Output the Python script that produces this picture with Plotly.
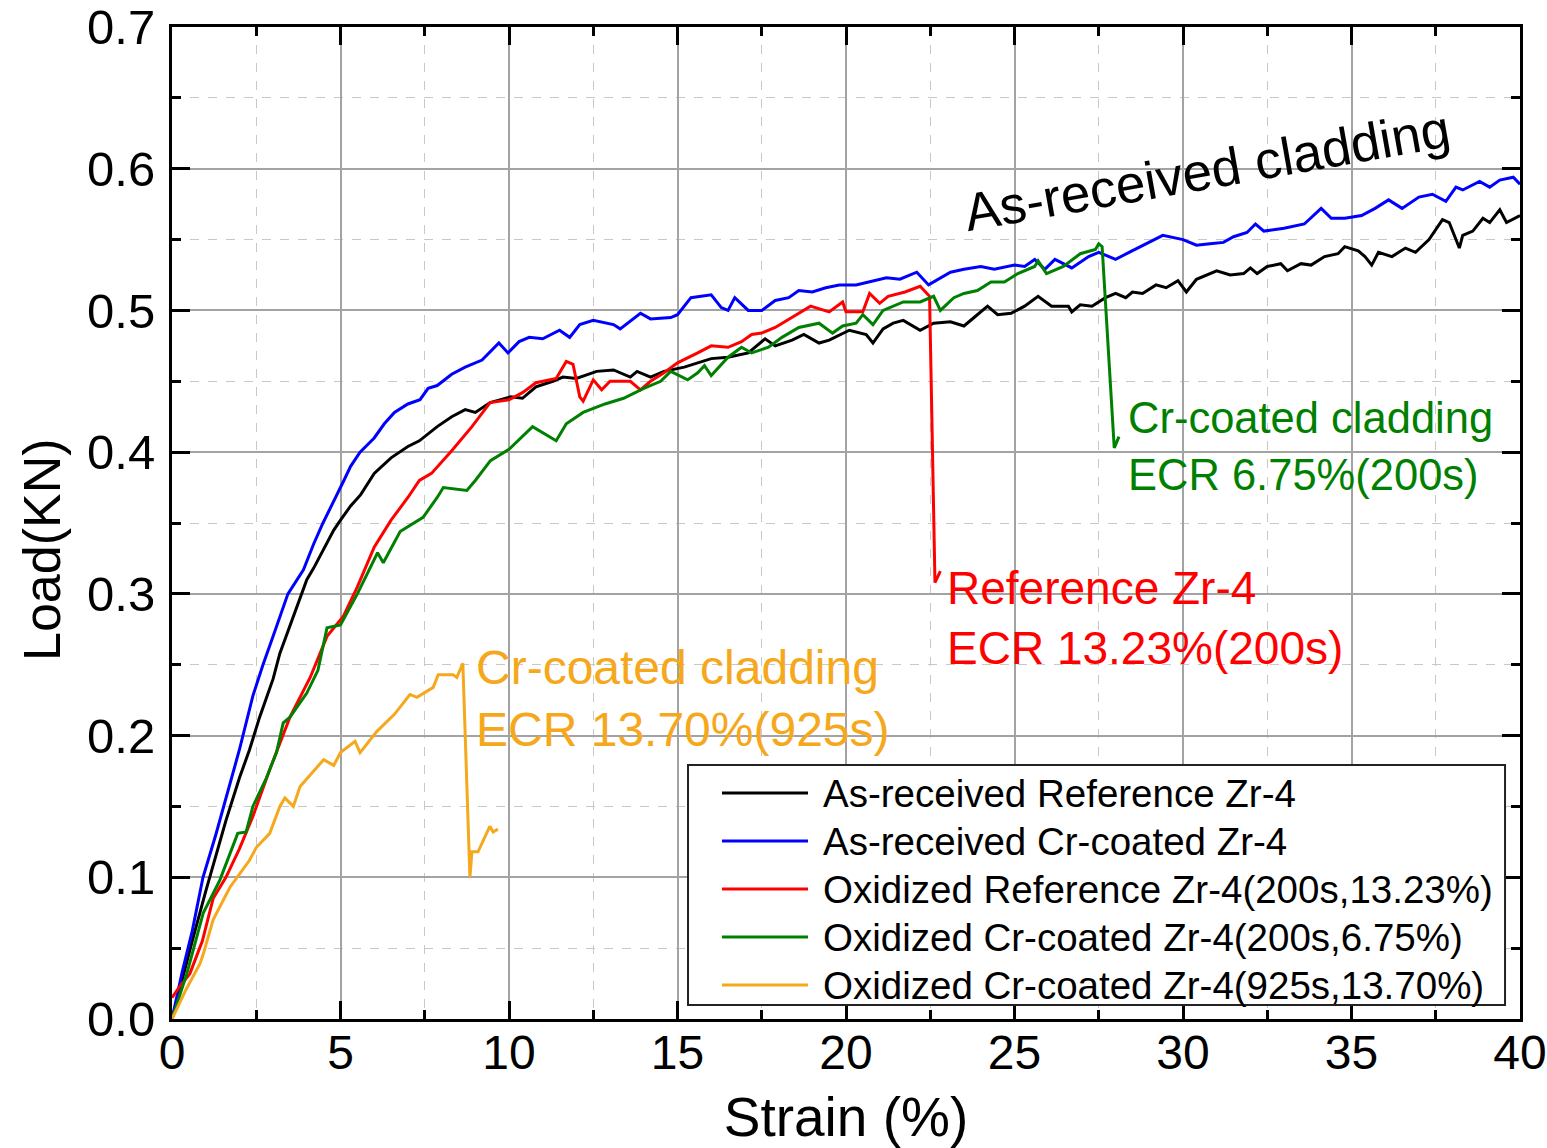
import plotly.graph_objects as go

# ---------------- data (strain %, load kN) ----------------
as_received_ref = [
    (0, 0), (0.3, 0.028), (0.6, 0.055), (1.0, 0.09), (1.3, 0.115), (1.6, 0.14), (2.0, 0.17), (2.3, 0.19),
    (2.6, 0.213), (3.0, 0.24), (3.2, 0.258), (3.45, 0.274), (3.7, 0.29), (4.0, 0.31), (4.2, 0.318),
    (4.5, 0.332), (4.8, 0.345), (5.0, 0.352), (5.3, 0.362), (5.6, 0.37), (6.0, 0.385), (6.5, 0.396),
    (7.0, 0.404), (7.34, 0.408), (7.87, 0.418), (8.3, 0.425), (8.7, 0.43), (9.0, 0.428), (9.44, 0.435),
    (10.05, 0.439), (10.4, 0.438), (10.8, 0.446), (11.3, 0.45), (11.6, 0.453), (12.0, 0.452),
    (12.6, 0.457), (13.1, 0.458), (13.6, 0.453), (13.8, 0.457), (14.2, 0.453), (14.6, 0.457),
    (15.2, 0.46), (15.6, 0.463), (16.0, 0.466), (16.5, 0.467), (17.1, 0.47), (17.6, 0.48), (17.9, 0.475),
    (18.4, 0.479), (18.75, 0.483), (19.2, 0.477), (19.5, 0.479), (20.1, 0.486), (20.6, 0.483),
    (20.8, 0.477), (21.1, 0.487), (21.4, 0.491), (21.7, 0.493), (22.2, 0.486), (22.6, 0.491),
    (23.1, 0.492), (23.5, 0.489), (23.8, 0.495), (24.2, 0.503), (24.5, 0.497), (24.9, 0.498),
    (25.3, 0.503), (25.7, 0.51), (26.1, 0.503), (26.6, 0.503), (26.7, 0.499), (26.95, 0.504),
    (27.3, 0.503), (27.7, 0.509), (28.0, 0.512), (28.3, 0.509), (28.5, 0.513), (28.8, 0.512),
    (29.2, 0.518), (29.5, 0.516), (29.85, 0.521), (30.1, 0.513), (30.4, 0.522), (30.7, 0.525),
    (31.0, 0.528), (31.4, 0.525), (31.8, 0.526), (32.0, 0.53), (32.2, 0.526), (32.5, 0.531),
    (32.9, 0.533), (33.1, 0.528), (33.5, 0.533), (33.8, 0.532), (34.2, 0.538), (34.6, 0.54),
    (34.8, 0.545), (35.2, 0.542), (35.4, 0.538), (35.6, 0.532), (35.8, 0.541), (36.2, 0.538),
    (36.6, 0.544), (36.9, 0.541), (37.3, 0.55), (37.7, 0.564), (37.9, 0.562), (38.1, 0.55),
    (38.2, 0.544), (38.3, 0.553), (38.6, 0.556), (38.9, 0.565), (39.1, 0.562), (39.4, 0.571),
    (39.6, 0.562), (40.0, 0.567),
]

as_received_cr = [
    (0, 0), (0.3, 0.033), (0.6, 0.062), (0.92, 0.1), (1.3, 0.13), (1.6, 0.155), (2.0, 0.19),
    (2.4, 0.228), (2.7, 0.25), (3.0, 0.27), (3.2, 0.284), (3.44, 0.3), (3.9, 0.317), (4.2, 0.335),
    (4.48, 0.35), (4.8, 0.365), (5.1, 0.38), (5.3, 0.39), (5.58, 0.4), (6.0, 0.41), (6.3, 0.42),
    (6.6, 0.428), (7.0, 0.434), (7.36, 0.437), (7.6, 0.445), (7.87, 0.447), (8.3, 0.455), (8.7, 0.46),
    (9.2, 0.465), (9.7, 0.477), (9.97, 0.47), (10.3, 0.478), (10.6, 0.481), (11.0, 0.48), (11.5, 0.486),
    (11.8, 0.481), (12.1, 0.49), (12.5, 0.493), (13.1, 0.49), (13.3, 0.487), (13.9, 0.498),
    (14.2, 0.494), (14.8, 0.495), (15.0, 0.497), (15.4, 0.509), (16.0, 0.511), (16.3, 0.502),
    (16.5, 0.5), (16.7, 0.509), (17.1, 0.5), (17.5, 0.5), (17.9, 0.507), (18.3, 0.509), (18.6, 0.514),
    (19.0, 0.513), (19.4, 0.516), (19.8, 0.518), (20.3, 0.518), (20.8, 0.521), (21.2, 0.523),
    (21.6, 0.522), (22.1, 0.527), (22.45, 0.518), (23.1, 0.527), (23.5, 0.529), (24.0, 0.531),
    (24.4, 0.529), (25.0, 0.532), (25.3, 0.531), (25.6, 0.536), (25.9, 0.529), (26.2, 0.536),
    (26.7, 0.53), (27.2, 0.538), (27.5, 0.541), (28.0, 0.536), (28.4, 0.541), (29.0, 0.548),
    (29.4, 0.553), (30.0, 0.55), (30.4, 0.546), (30.8, 0.547), (31.2, 0.548), (31.5, 0.552),
    (31.9, 0.555), (32.15, 0.561), (32.4, 0.556), (33.0, 0.558), (33.6, 0.561), (34.1, 0.572),
    (34.4, 0.565), (34.8, 0.565), (35.3, 0.567), (35.7, 0.572), (36.1, 0.578), (36.5, 0.572),
    (37.0, 0.58), (37.4, 0.582), (37.8, 0.577), (38.1, 0.587), (38.3, 0.585), (38.8, 0.591),
    (39.1, 0.587), (39.4, 0.592), (39.8, 0.594), (40.0, 0.589),
]

oxidized_ref_200s = [
    (0, 0.015), (0.2, 0.022), (0.53, 0.032), (0.9, 0.055), (1.22, 0.085), (1.6, 0.1), (2.0, 0.12),
    (2.4, 0.143), (2.9, 0.176), (3.5, 0.213), (4.1, 0.241), (4.6, 0.27), (5.08, 0.284), (5.5, 0.305),
    (6.0, 0.333), (6.5, 0.352), (7.0, 0.368), (7.34, 0.38), (7.7, 0.385), (8.3, 0.401), (8.9, 0.418),
    (9.44, 0.435), (10.0, 0.437), (10.4, 0.442), (10.8, 0.449), (11.4, 0.452), (11.7, 0.464),
    (11.9, 0.462), (12.1, 0.439), (12.2, 0.436), (12.5, 0.451), (12.75, 0.444), (13.0, 0.45),
    (13.6, 0.45), (13.9, 0.444), (14.2, 0.45), (14.6, 0.456), (15.0, 0.463), (15.6, 0.47),
    (16.0, 0.475), (16.5, 0.474), (16.9, 0.478), (17.2, 0.483), (17.5, 0.484), (17.9, 0.488),
    (18.4, 0.495), (18.95, 0.503), (19.5, 0.499), (19.9, 0.506), (20.0, 0.499), (20.5, 0.499),
    (20.7, 0.512), (21.0, 0.505), (21.25, 0.51), (21.75, 0.513), (22.2, 0.517), (22.4, 0.512),
    (22.48, 0.51), (22.64, 0.308), (22.8, 0.316),
]

oxidized_cr_200s = [
    (0, 0), (0.44, 0.032), (0.93, 0.075), (1.42, 0.098), (1.95, 0.131), (2.2, 0.132), (2.4, 0.15),
    (2.8, 0.17), (3.1, 0.188), (3.3, 0.209), (3.5, 0.213), (4.0, 0.23), (4.33, 0.246), (4.6, 0.276),
    (5.0, 0.278), (5.5, 0.3), (6.1, 0.329), (6.27, 0.322), (6.77, 0.344), (6.9, 0.346), (7.45, 0.354),
    (7.87, 0.368), (8.05, 0.375), (8.75, 0.373), (9.0, 0.38), (9.45, 0.394), (10.0, 0.402),
    (10.7, 0.418), (11.1, 0.412), (11.4, 0.408), (11.7, 0.42), (12.2, 0.428), (12.85, 0.434),
    (13.4, 0.438), (14.0, 0.445), (14.5, 0.45), (14.8, 0.457), (15.3, 0.451), (15.6, 0.456),
    (15.8, 0.461), (16.0, 0.454), (16.5, 0.467), (16.9, 0.474), (17.2, 0.47), (17.7, 0.474),
    (18.1, 0.481), (18.6, 0.488), (19.2, 0.491), (19.6, 0.484), (19.9, 0.489), (20.3, 0.491),
    (20.5, 0.497), (20.8, 0.49), (21.1, 0.5), (21.7, 0.506), (22.2, 0.506), (22.6, 0.51), (22.8, 0.5),
    (23.2, 0.509), (23.5, 0.512), (23.9, 0.514), (24.3, 0.52), (24.7, 0.52), (25.1, 0.526),
    (25.6, 0.531), (25.7, 0.535), (25.95, 0.526), (26.45, 0.531), (26.95, 0.54), (27.4, 0.543),
    (27.5, 0.547), (27.6, 0.545), (27.96, 0.403), (28.1, 0.411),
]

oxidized_cr_925s = [
    (0, 0), (0.4, 0.02), (0.83, 0.039), (0.93, 0.046), (1.22, 0.07), (1.72, 0.093), (2.3, 0.112),
    (2.5, 0.121), (2.9, 0.131), (3.2, 0.15), (3.35, 0.156), (3.6, 0.15), (3.8, 0.164), (4.5, 0.183),
    (4.8, 0.179), (5.0, 0.188), (5.43, 0.196), (5.58, 0.188), (6.08, 0.203), (6.6, 0.215),
    (7.06, 0.229), (7.27, 0.227), (7.75, 0.234), (7.9, 0.243), (8.34, 0.243), (8.45, 0.241),
    (8.63, 0.251), (8.84, 0.1), (8.9, 0.118), (9.08, 0.118), (9.43, 0.136), (9.53, 0.132), (9.67, 0.134),
]

series_names = [
    "As-received Reference Zr-4",
    "As-received Cr-coated Zr-4",
    "Oxidized Reference Zr-4(200s,13.23%)",
    "Oxidized Cr-coated Zr-4(200s,6.75%)",
    "Oxidized Cr-coated Zr-4(925s,13.70%)",
]
series_data = [as_received_ref, as_received_cr, oxidized_ref_200s, oxidized_cr_200s, oxidized_cr_925s]
series_colors = ["#000000", "#0000FF", "#FF0000", "#008000", "#F5A81C"]

x_ticks = [0, 5, 10, 15, 20, 25, 30, 35, 40]
y_ticks = [0.0, 0.1, 0.2, 0.3, 0.4, 0.5, 0.6, 0.7]

FONT = "Liberation Sans, Arial, sans-serif"

fig = go.Figure()
for name, pts, col in zip(series_names, series_data, series_colors):
    fig.add_trace(go.Scatter(
        x=[p[0] for p in pts], y=[p[1] for p in pts], mode="lines", name=name,
        line=dict(color=col, width=3), showlegend=False,
    ))

axis_common = dict(
    showline=True, linewidth=3, linecolor="black", mirror="allticks",
    ticks="inside", ticklen=18, tickwidth=3, tickcolor="black",
    showgrid=True, gridcolor="#a3a3a3", gridwidth=1.5, zeroline=False,
    automargin=False,
)

fig.update_xaxes(
    range=[0, 40], tickvals=x_ticks, ticktext=[str(v) for v in x_ticks],
    tickfont=dict(size=48, family=FONT, color="black"), ticklabelstandoff=-11,
    title=dict(text="Strain (%)", font=dict(size=55, family=FONT), standoff=20),
    minor=dict(dtick=2.5, tick0=0, ticks="inside", ticklen=9, tickwidth=3, tickcolor="black",
               showgrid=True, gridcolor="#c8c8c8", gridwidth=1, griddash="dash"),
    **axis_common,
)
fig.update_yaxes(
    range=[0, 0.7], tickvals=y_ticks, ticktext=[f"{v:.1f}" for v in y_ticks],
    tickfont=dict(size=49, family=FONT, color="black"), ticklabelstandoff=4,
    minor=dict(dtick=0.05, tick0=0, ticks="inside", ticklen=9, tickwidth=3, tickcolor="black",
               showgrid=True, gridcolor="#c8c8c8", gridwidth=1, griddash="dash"),
    **axis_common,
)

# y-axis title (placed slightly below the plot's mid-height, as in the original)
fig.add_annotation(xref="paper", yref="paper", x=-0.0964, y=0.4728, text="Load(KN)",
                   textangle=-90, showarrow=False, xanchor="center", yanchor="middle",
                   font=dict(size=52, family=FONT, color="black"))

# in-plot labels
fig.add_annotation(x=30.7, y=0.599, text="As-received cladding", showarrow=False, textangle=-10,
                   font=dict(size=53, family=FONT, color="black"))
fig.add_annotation(x=28.3, y=0.404, text="Cr-coated cladding<br>ECR 6.75%(200s)", showarrow=False,
                   xanchor="left", yanchor="middle", align="left",
                   font=dict(size=43.5, family=FONT, color="#008000"))
fig.add_annotation(x=22.95, y=0.283, text="Reference Zr-4<br>ECR 13.23%(200s)", showarrow=False,
                   xanchor="left", yanchor="middle", align="left",
                   font=dict(size=46, family=FONT, color="#FF0000"))
fig.add_annotation(x=8.95, y=0.226, text="Cr-coated cladding<br>ECR 13.70%(925s)", showarrow=False,
                   xanchor="left", yanchor="middle", align="left",
                   font=dict(size=48, family=FONT, color="#F5A81C"))

# legend box (paper coordinates)
LEG_X0, LEG_X1, LEG_Y0, LEG_Y1 = 0.3828, 0.9889, 0.0141, 0.2560
SAMPLE_X0, SAMPLE_X1, TEXT_X = 0.4080, 0.4718, 0.4815
ROW_Y0, ROW_STEP = 0.2278, 0.04839
fig.add_shape(type="rect", xref="paper", yref="paper", x0=LEG_X0, x1=LEG_X1, y0=LEG_Y0, y1=LEG_Y1,
              line=dict(color="#222222", width=2), fillcolor="white", layer="above")
for i, (name, col) in enumerate(zip(series_names, series_colors)):
    ry = ROW_Y0 - i * ROW_STEP
    fig.add_shape(type="line", xref="paper", yref="paper", x0=SAMPLE_X0, x1=SAMPLE_X1, y0=ry, y1=ry,
                  line=dict(color=col, width=3), layer="above")
    fig.add_annotation(xref="paper", yref="paper", x=TEXT_X, y=ry, text=name, showarrow=False,
                       xanchor="left", yanchor="middle",
                       font=dict(size=38.5, family=FONT, color="black"))

fig.update_layout(
    width=1547, height=1148,
    margin=dict(l=172, r=27, t=27, b=129),
    plot_bgcolor="white", paper_bgcolor="white",
    font=dict(family=FONT, color="black"),
    showlegend=False,
)

fig.write_html("out.html")
